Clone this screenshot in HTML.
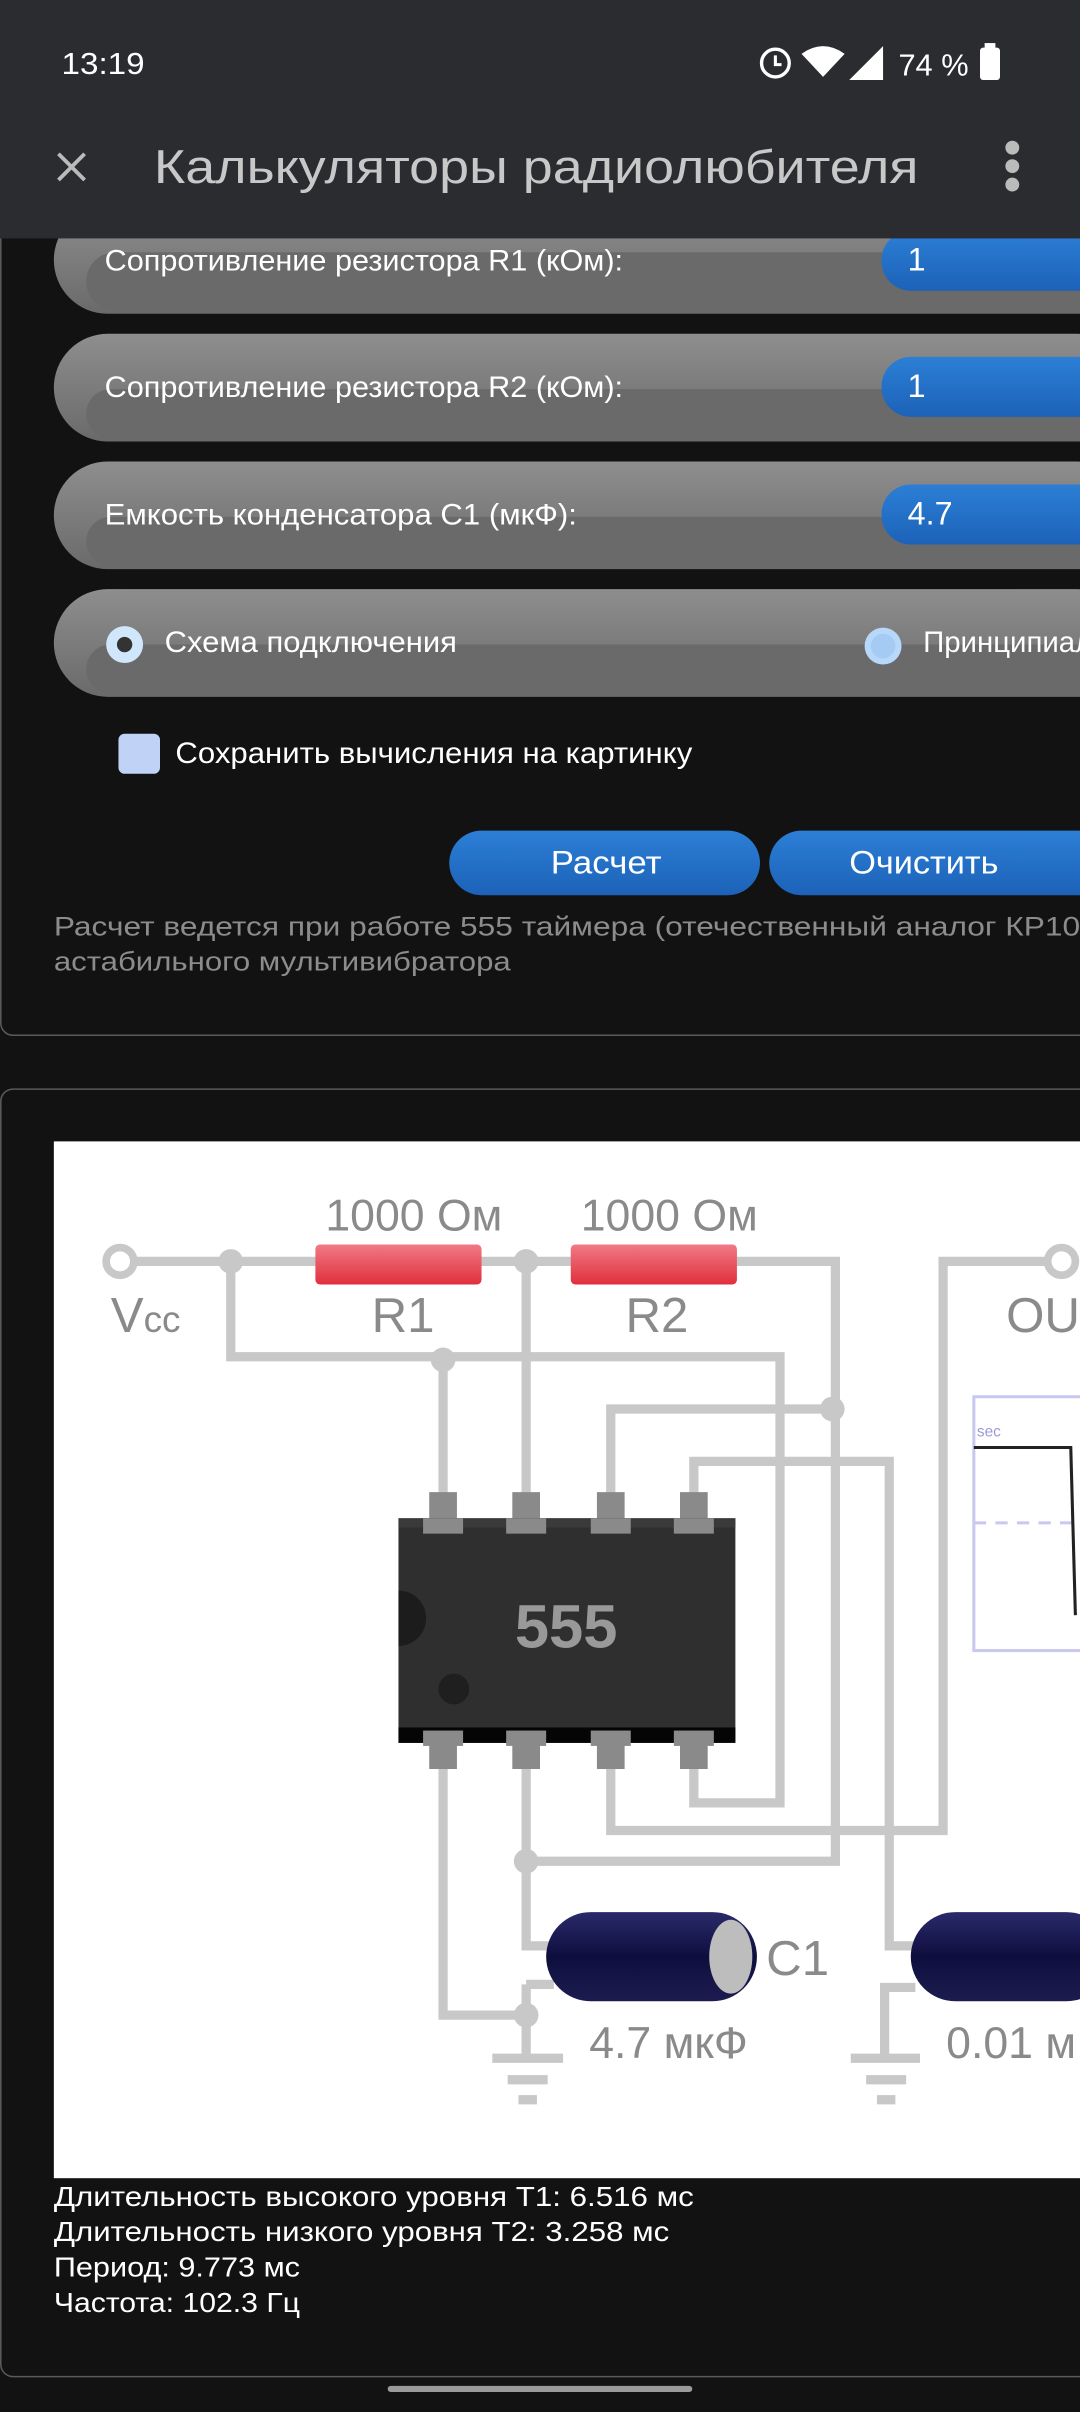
<!DOCTYPE html>
<html><head><meta charset="utf-8"><style>
html,body{margin:0;padding:0;background:#121212;}
svg{display:block}
text{font-family:"Liberation Sans","DejaVu Sans",sans-serif}
</style></head><body>
<svg width="1080" height="2412" viewBox="0 0 702 1568" preserveAspectRatio="none" xmlns="http://www.w3.org/2000/svg">
<defs>
<linearGradient id="pill" x1="0" y1="0" x2="0" y2="1"><stop offset="0" stop-color="#8e8e8e"/><stop offset="1" stop-color="#6a6a6a"/></linearGradient>
<linearGradient id="blue" x1="0" y1="0" x2="0" y2="1"><stop offset="0" stop-color="#2c7fd6"/><stop offset="1" stop-color="#1c62b8"/></linearGradient>
<linearGradient id="res" x1="0" y1="0" x2="0" y2="1"><stop offset="0" stop-color="#f07a86"/><stop offset="1" stop-color="#e0303c"/></linearGradient>
<linearGradient id="cap" x1="0" y1="0" x2="0" y2="1"><stop offset="0" stop-color="#2a2a6a"/><stop offset="0.5" stop-color="#0e0e3e"/><stop offset="1" stop-color="#1c1c50"/></linearGradient>
</defs>
<rect x="0" y="0" width="702" height="1568" fill="#121212"/>
<rect x="0.5" y="100" width="720" height="573" rx="8" fill="#121212" stroke="#5a5a5a" stroke-width="1"/>
<g>
<rect x="35" y="134" width="700" height="70" rx="35" fill="url(#pill)"/>
<rect x="56" y="164" width="680" height="38" rx="19" fill="#6a6a6a"/>
<rect x="35" y="217" width="700" height="70" rx="35" fill="url(#pill)"/>
<rect x="56" y="253" width="680" height="32" rx="16" fill="#6a6a6a"/>
<rect x="35" y="300" width="700" height="70" rx="35" fill="url(#pill)"/>
<rect x="56" y="336" width="680" height="32" rx="16" fill="#6a6a6a"/>
<rect x="35" y="383" width="700" height="70" rx="35" fill="url(#pill)"/>
<rect x="56" y="419" width="680" height="32" rx="16" fill="#6a6a6a"/>
</g>
<rect x="573" y="150" width="200" height="39" rx="19" fill="url(#blue)"/>
<rect x="573" y="232" width="200" height="39" rx="19" fill="url(#blue)"/>
<rect x="573" y="315" width="200" height="39" rx="19" fill="url(#blue)"/>
<g fill="#fff" font-size="19">
<text x="68" y="176" textLength="337" lengthAdjust="spacingAndGlyphs">Сопротивление резистора R1 (кОм):</text>
<text x="68" y="258" textLength="337" lengthAdjust="spacingAndGlyphs">Сопротивление резистора R2 (кОм):</text>
<text x="68" y="341" textLength="307" lengthAdjust="spacingAndGlyphs">Емкость конденсатора С1 (мкФ):</text>
<text x="107" y="424" textLength="190" lengthAdjust="spacingAndGlyphs">Схема подключения</text>
<text x="600" y="424" textLength="110" lengthAdjust="spacingAndGlyphs">Принципиал</text>
<text x="590" y="176" font-size="21">1</text>
<text x="590" y="258" font-size="21">1</text>
<text x="590" y="341" font-size="21">4.7</text>
<text x="114" y="496" textLength="336" lengthAdjust="spacingAndGlyphs">Сохранить вычисления на картинку</text>
</g>
<circle cx="81" cy="419" r="12" fill="#cfe6fb"/><circle cx="81" cy="419" r="5" fill="#333"/>
<circle cx="574" cy="420" r="12" fill="#b8d8fa"/><circle cx="574" cy="420" r="8" fill="#a5cbf5"/>
<rect x="77" y="477" width="27" height="26" rx="4" fill="#c0d2f5"/>
<rect x="292" y="540" width="202" height="42" rx="21" fill="url(#blue)"/>
<rect x="500" y="540" width="230" height="42" rx="21" fill="url(#blue)"/>
<text x="358" y="568" fill="#fff" font-size="21" textLength="72" lengthAdjust="spacingAndGlyphs">Расчет</text>
<text x="552" y="568" fill="#fff" font-size="21" textLength="97" lengthAdjust="spacingAndGlyphs">Очистить</text>
<g fill="#8c8c8c" font-size="17.5">
<text x="35" y="608" textLength="690" lengthAdjust="spacingAndGlyphs">Расчет ведется при работе 555 таймера (отечественный аналог КР1006</text>
<text x="35" y="631" textLength="297" lengthAdjust="spacingAndGlyphs">астабильного мультивибратора</text>
</g>
<rect x="0" y="0" width="702" height="155" fill="#2b2c30"/>
<text x="40" y="48" fill="#fff" font-size="20" textLength="54" lengthAdjust="spacingAndGlyphs">13:19</text>
<g fill="#fff">
<circle cx="504" cy="41" r="9" fill="none" stroke="#fff" stroke-width="2.2"/>
<path d="M504 36v6h4" stroke="#fff" stroke-width="2" fill="none"/>
<path d="M521 35 Q535 25 549 35 L535 50 Z"/>
<path d="M552 52 L574 30 L574 52 Z"/>
<text x="584" y="49" font-size="20">74 %</text>
<rect x="637" y="31" width="13" height="21" rx="2"/><rect x="640" y="28" width="7" height="4"/>
</g>
<path d="M38 100 L55 117 M55 100 L38 117" stroke="#bbb" stroke-width="2.5"/>
<text x="100" y="119" fill="#c8c8c8" font-size="31" textLength="497" lengthAdjust="spacingAndGlyphs">Калькуляторы радиолюбителя</text>
<circle cx="658" cy="96" r="4.5" fill="#bbb"/><circle cx="658" cy="108" r="4.5" fill="#bbb"/><circle cx="658" cy="120" r="4.5" fill="#bbb"/>
<rect x="0.5" y="708" width="720" height="837" rx="8" fill="#121212" stroke="#5a5a5a" stroke-width="1"/>
<rect x="35" y="742" width="667" height="674" fill="#fff"/>
<g fill="none" stroke="#c8c8c8" stroke-width="6">
<path d="M78 820 H543 V1210 H342"/>
<path d="M150 820 V882 H507 V1172 H451 V1145"/>
<path d="M288 882 V975"/>
<path d="M342 820 V975"/>
<path d="M397 975 V916 H543"/>
<path d="M451 975 V950 H578 V1265 H595"/>
<path d="M690 820 H613 V1190 H397 V1145"/>
<path d="M288 1145 V1310 H342"/>
<path d="M342 1145 V1265 H360"/>
<path d="M342 1290 H360 M342 1290 V1338"/>
<path d="M575 1338 V1292 H595"/>
<path d="M320 1338 H366 M330 1352 H356 M337 1365 H349"/>
<path d="M553 1338 H598 M563 1352 H589 M570 1365 H582"/>
</g>
<g fill="#c8c8c8">
<circle cx="150" cy="820" r="8"/><circle cx="342" cy="820" r="8"/><circle cx="288" cy="884" r="8"/>
<circle cx="541" cy="916" r="8"/><circle cx="342" cy="1210" r="8"/><circle cx="342" cy="1310" r="8"/>
</g>
<circle cx="78" cy="820" r="9" fill="#fff" stroke="#c8c8c8" stroke-width="5"/>
<circle cx="690" cy="820" r="9" fill="#fff" stroke="#c8c8c8" stroke-width="5"/>
<rect x="205" y="809" width="108" height="26" rx="3" fill="url(#res)"/>
<rect x="371" y="809" width="108" height="26" rx="3" fill="url(#res)"/>
<g fill="#8a8a8a" font-size="29">
<text x="269" y="800" text-anchor="middle">1000 Ом</text>
<text x="435" y="800" text-anchor="middle">1000 Ом</text>
<text x="262" y="866" text-anchor="middle" font-size="32">R1</text>
<text x="427" y="866" text-anchor="middle" font-size="32">R2</text>
<text x="72" y="866" font-size="32">V<tspan font-size="24">cc</tspan></text>
<text x="654" y="866" font-size="32">OU</text>
<text x="498" y="1284" font-size="32">C1</text>
<text x="383" y="1338">4.7 мкФ</text>
<text x="615" y="1338">0.01 м</text>
</g>
<g fill="#8a8a8a">
<rect x="279" y="970" width="18" height="24"/><rect x="333" y="970" width="18" height="24"/><rect x="388" y="970" width="18" height="24"/><rect x="442" y="970" width="18" height="24"/>
<rect x="279" y="1126" width="18" height="24"/><rect x="333" y="1126" width="18" height="24"/><rect x="388" y="1126" width="18" height="24"/><rect x="442" y="1126" width="18" height="24"/>
</g>
<rect x="259" y="987" width="219" height="146" fill="#2f2f2f"/>
<rect x="259" y="987" width="219" height="6" fill="#3a3a3a"/>
<rect x="259" y="1123" width="219" height="10" fill="#050505"/>
<g fill="#8a8a8a">
<rect x="275" y="987" width="26" height="10"/><rect x="329" y="987" width="26" height="10"/><rect x="384" y="987" width="26" height="10"/><rect x="438" y="987" width="26" height="10"/>
<rect x="275" y="1125" width="26" height="10"/><rect x="329" y="1125" width="26" height="10"/><rect x="384" y="1125" width="26" height="10"/><rect x="438" y="1125" width="26" height="10"/>
</g>
<path d="M259 1034 A18 18 0 0 1 259 1070 Z" fill="#1c1c1c"/>
<circle cx="295" cy="1098" r="10" fill="#1f1f1f"/>
<text x="368" y="1071" fill="#999" font-size="40" font-weight="bold" text-anchor="middle">555</text>
<rect x="355" y="1243" width="137" height="58" rx="29" fill="url(#cap)"/>
<ellipse cx="475" cy="1272" rx="14" ry="24" fill="#bdbdbd"/>
<rect x="592" y="1243" width="130" height="58" rx="29" fill="url(#cap)"/>
<rect x="633" y="908" width="80" height="165" fill="#fff" stroke="#c8c8f0" stroke-width="2"/>
<text x="635" y="934" fill="#9a9ad8" font-size="10">sec</text>
<path d="M633 990 H702" stroke="#c8c8f0" stroke-width="2" stroke-dasharray="8 6"/>
<path d="M633 941 H696 L699 1050" stroke="#222" stroke-width="2" fill="none"/>
<g fill="#fff" font-size="18">
<text x="35" y="1434" textLength="416" lengthAdjust="spacingAndGlyphs">Длительность высокого уровня Т1: 6.516 мс</text>
<text x="35" y="1457" textLength="400" lengthAdjust="spacingAndGlyphs">Длительность низкого уровня Т2: 3.258 мс</text>
<text x="35" y="1480" textLength="160" lengthAdjust="spacingAndGlyphs">Период: 9.773 мс</text>
<text x="35" y="1503" textLength="160" lengthAdjust="spacingAndGlyphs">Частота: 102.3 Гц</text>
</g>
<rect x="0" y="1546" width="702" height="22" fill="#121212"/>
<rect x="252" y="1551" width="198" height="4" rx="2" fill="#9a9a9a"/>
</svg>
</body></html>
